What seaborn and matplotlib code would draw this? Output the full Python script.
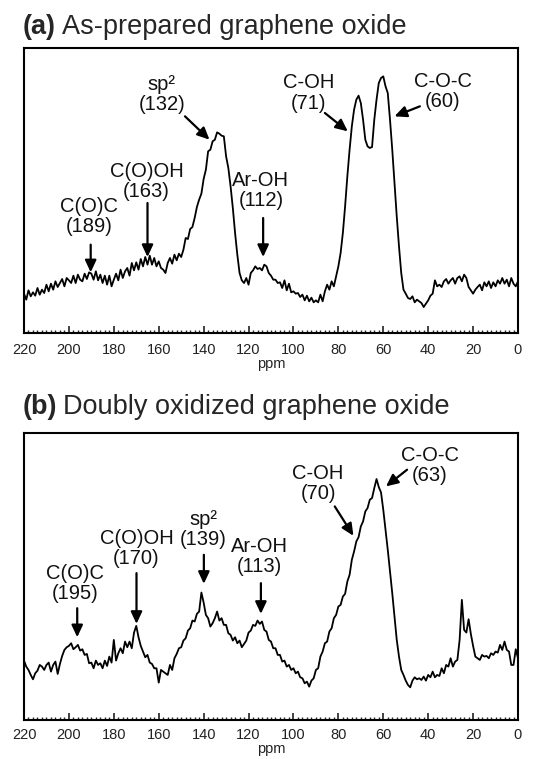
import numpy as np
import pandas as pd
import matplotlib
matplotlib.use("Agg")
import matplotlib.pyplot as plt
import seaborn as sns

# ---------------- data ----------------
ppm = list(range(220, -1, -1))

intensity_a = [
    118, 100, 128, 110, 122, 112, 135, 115, 130, 120,
    145, 125, 148, 130, 155, 138, 150, 162, 140, 165,
    158, 150, 172, 150, 175, 160, 155, 178, 162, 182,
    178, 160, 185, 158, 175, 150, 172, 145, 172, 140,
    160, 178, 158, 190, 165, 185, 195, 172, 210, 188,
    212, 190, 222, 200, 228, 205, 232, 205, 225, 200,
    215, 195, 190, 180, 210, 225, 208, 235, 218, 238,
    228, 250, 285, 282, 312, 318, 345, 378, 400, 418,
    462, 490, 545, 550, 575, 580, 602, 598, 592, 590,
    530, 495, 440, 375, 300, 235, 180, 158, 150, 165,
    145, 180, 188, 200, 192, 195, 188, 205, 200, 180,
    172, 160, 160, 150, 152, 135, 158, 128, 148, 122,
    125, 118, 120, 108, 115, 98, 112, 95, 106, 92,
    98, 92, 115, 95, 125, 145, 130, 155, 140, 170,
    200, 240, 300, 380, 470, 550, 620, 670, 700, 712,
    690, 640, 580, 560, 555, 558, 640, 700, 750, 765,
    770, 740, 720, 640, 550, 450, 350, 260, 180, 130,
    118, 105, 102, 110, 92, 100, 95, 90, 78, 88,
    98, 112, 118, 158, 140, 145, 138, 155, 162, 148,
    158, 165, 148, 165, 170, 155, 175, 165, 138, 128,
    118, 130, 138, 145, 128, 152, 140, 155, 135, 152,
    140, 158, 148, 165, 148, 160, 140, 165, 148, 140,
    155,
]

intensity_b = [
    178, 160, 150, 135, 122, 140, 148, 165, 160, 150,
    165, 172, 145, 165, 175, 138, 168, 192, 210, 218,
    222, 230, 212, 218, 225, 208, 212, 195, 198, 170,
    172, 155, 178, 165, 170, 155, 178, 162, 190, 172,
    240, 178, 200, 215, 200, 235, 218, 235, 215, 262,
    282, 248, 222, 205, 188, 195, 172, 168, 155, 155,
    112, 150, 145, 140, 135, 165, 150, 185, 198, 215,
    218, 238, 245, 268, 275, 298, 295, 318, 325, 382,
    352, 315, 305, 280, 290, 305, 325, 298, 305, 285,
    285, 260, 255, 238, 248, 230, 238, 218, 228, 238,
    262, 268, 285, 282, 298, 288, 295, 270, 265, 240,
    235, 215, 215, 195, 195, 175, 178, 160, 165, 150,
    155, 140, 145, 128, 125, 110, 115, 100, 118, 125,
    150, 155, 190, 205, 230, 235, 265, 275, 305, 315,
    340, 345, 370, 378, 415, 435, 480, 505, 535, 548,
    580, 595, 625, 635, 660, 665, 695, 722, 698, 682,
    630, 570, 510, 445, 380, 310, 240, 190, 150, 135,
    118, 105, 98, 118, 128, 122, 125, 120, 130, 118,
    135, 128, 145, 128, 135, 132, 155, 140, 165, 160,
    185, 160, 175, 180, 240, 360, 270, 262, 302, 258,
    222, 190, 185, 180, 195, 190, 192, 185, 200, 195,
    205, 202, 225, 210, 235, 210, 205, 165, 165, 212,
    185,
]

labels_a = ["C(O)C\n(189)", "C(O)OH\n(163)", "sp\u00b2\n(132)",
            "Ar-OH\n(112)", "C-OH\n(71)", "C-O-C\n(60)"]
labels_b = ["C(O)C\n(195)", "C(O)OH\n(170)", "sp\u00b2\n(139)",
            "Ar-OH\n(113)", "C-OH\n(70)", "C-O-C\n(63)"]

titles_bold = ["(a)", "(b)"]
titles_text = ["As-prepared graphene oxide", "Doubly oxidized graphene oxide"]
x_label = "ppm"

# ---------------- layout (annotation placement) ----------------
text_pos_a = [(190.9, 350), (165.4, 455), (158.7, 715), (114.5, 428), (93.4, 720), (33.4, 725)]
arrow_a = [((190.3, 265), (190.3, 182)), ((165.0, 390), (165.0, 228)),
           ((148.3, 650), (137.4, 580)), ((113.5, 345), (113.5, 228)),
           ((86.0, 660), (75.8, 605)), ((43.7, 680), (55.0, 650))]
text_pos_b = [(197.3, 408), (169.9, 515), (140.2, 570), (115.0, 490), (89.0, 708), (39.3, 762)]
arrow_b = [((196.3, 335), (196.3, 248)), ((169.9, 440), (169.9, 288)),
           ((139.9, 495), (139.9, 408)), ((114.5, 410), (114.5, 318)),
           ((81.6, 640), (73.3, 552)), ((49.4, 750), (58.8, 700))]

# ---------------- plotting ----------------
sns.set_theme(style="white")
plt.rcParams['font.family'] = ['Liberation Sans', 'DejaVu Sans']

W, H = 535, 759
fig = plt.figure(figsize=(W / 100, H / 100), dpi=100)

ax_rects = [[24 / W, 1 - 333 / H, (518 - 24) / W, (333 - 48) / H],
            [24 / W, 1 - 720 / H, (518 - 24) / W, (720 - 433) / H]]
ylims = [(0, 855), (0, 860)]
title_base = [1 - 33.5 / H, 1 - 414 / H]
tick_pads = [7, 5.5]

df_a = pd.DataFrame({"ppm": ppm, "I": intensity_a})
df_b = pd.DataFrame({"ppm": ppm, "I": intensity_b})

for k, (df, labels, tpos, arrows) in enumerate(
        [(df_a, labels_a, text_pos_a, arrow_a), (df_b, labels_b, text_pos_b, arrow_b)]):
    ax = fig.add_axes(ax_rects[k])
    sns.lineplot(data=df, x="ppm", y="I", ax=ax, color="black", lw=1.3,
                 estimator=None, sort=False)
    ax.set_xlim(220, 0)
    ax.set_ylim(*ylims[k])
    ax.set_yticks([])
    ax.set_ylabel("")
    ax.set_xticks(np.arange(0, 221, 20))
    ax.set_xticks(np.arange(0, 221, 2), minor=True)
    ax.tick_params(axis='x', which='major', direction='in', length=5, width=1.2,
                   bottom=True, top=False, labelsize=10.5, pad=tick_pads[k],
                   colors='#222222')
    ax.tick_params(axis='x', which='minor', direction='in', length=2.5, width=1.0,
                   bottom=True, top=False)
    ax.set_xlabel(x_label, fontsize=10.5, labelpad=0, color='#222222')
    for s in ax.spines.values():
        s.set_visible(True)
        s.set_color('black')
        s.set_linewidth(1.5)

    for lab, (tx, ty) in zip(labels, tpos):
        ax.text(tx, ty, lab, ha='center', va='center', fontsize=14.5,
                linespacing=1.08, color='#111111')
    for (tail, head) in arrows:
        ax.annotate('', xy=head, xytext=tail,
                    arrowprops=dict(arrowstyle='-|>,head_length=0.6,head_width=0.28',
                                    color='black', lw=1.6, shrinkA=0, shrinkB=0))

    # panel title: bold tag + normal text
    t1 = fig.text(22.5 / W, title_base[k], titles_bold[k], fontsize=19.5,
                  fontweight='bold', va='baseline', ha='left')
    fig.canvas.draw()
    bb = t1.get_window_extent()
    fig.text((bb.x1 + 6) / W, title_base[k], titles_text[k], fontsize=19.5,
             va='baseline', ha='left')

fig.savefig("out.png", dpi=100)
